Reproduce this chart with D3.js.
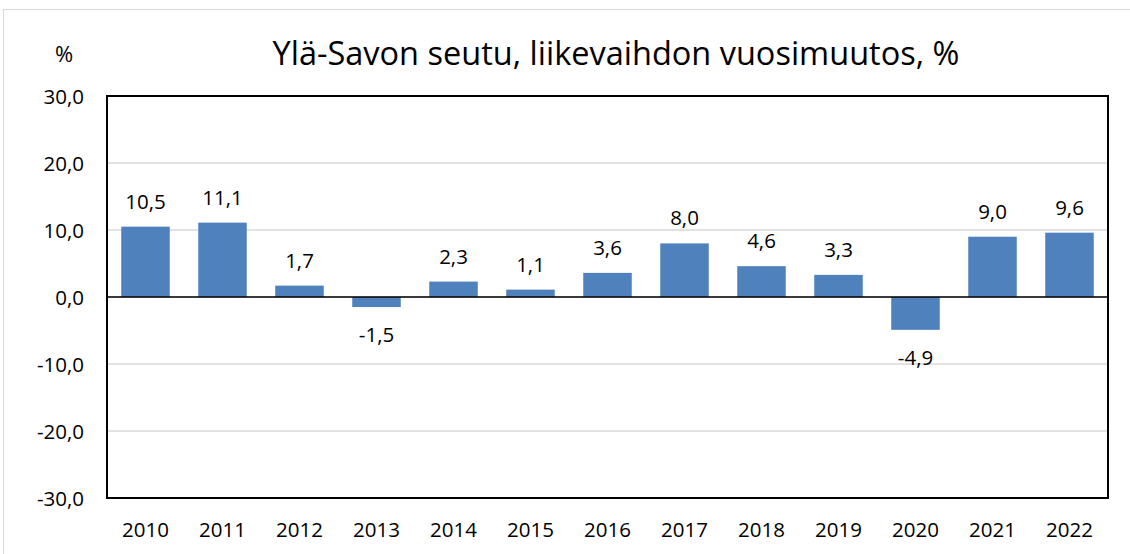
<!DOCTYPE html>
<html>
<head>
<meta charset="utf-8">
<script src="https://cdn.jsdelivr.net/npm/d3@7"></script>
<style>
  html, body { margin: 0; padding: 0; background: #fff; }
  text { font-family: "Open Sans", sans-serif; fill: #000; }
</style>
</head>
<body>
<div id="container"></div>
<script>
const years = ["2010", "2011", "2012", "2013", "2014", "2015", "2016", "2017", "2018", "2019", "2020", "2021", "2022"];
const changes = [10.5, 11.1, 1.7, -1.5, 2.3, 1.1, 3.6, 8.0, 4.6, 3.3, -4.9, 9.0, 9.6];
const yTicks = [-30, -20, -10, 0, 10, 20, 30];
const title = "Ylä-Savon seutu, liikevaihdon vuosimuutos, %";

const w = 1130;
const h = 554;
const plotL = 107;
const plotR = 1108;
const plotT = 96;
const plotB = 498;

const fmt = v => v.toFixed(1).replace(".", ",");

const svg = d3.select("#container")
  .append("svg")
  .attr("width", w)
  .attr("height", h);

// outer chart border
svg.append("rect")
  .attr("x", 3.5)
  .attr("y", 9.5)
  .attr("width", w + 20)
  .attr("height", h + 20)
  .attr("fill", "#fff")
  .attr("stroke", "#d9d9d9")
  .attr("stroke-width", 1);

const xScale = d3.scaleBand()
  .domain(years)
  .range([plotL, plotR])
  .paddingInner(0.37)
  .paddingOuter(0.185);

const yScale = d3.scaleLinear()
  .domain([-30, 30])
  .range([plotB, plotT]);

// gridlines
svg.append("g")
  .selectAll("line")
  .data(yTicks)
  .enter()
  .append("line")
  .attr("x1", plotL)
  .attr("x2", plotR)
  .attr("y1", d => yScale(d))
  .attr("y2", d => yScale(d))
  .attr("stroke", "#d9d9d9")
  .attr("stroke-width", 1.5);

// bars
svg.append("g")
  .selectAll("rect")
  .data(changes)
  .enter()
  .append("rect")
  .attr("x", (d, i) => xScale(years[i]))
  .attr("y", d => yScale(Math.max(0, d)))
  .attr("width", xScale.bandwidth())
  .attr("height", d => Math.abs(yScale(d) - yScale(0)))
  .attr("fill", "#4f81bd");

// zero line
svg.append("line")
  .attr("x1", plotL)
  .attr("x2", plotR)
  .attr("y1", yScale(0))
  .attr("y2", yScale(0))
  .attr("stroke", "#000")
  .attr("stroke-width", 1.5);

// plot frame
svg.append("rect")
  .attr("x", plotL)
  .attr("y", plotT)
  .attr("width", plotR - plotL)
  .attr("height", plotB - plotT)
  .attr("fill", "none")
  .attr("stroke", "#000")
  .attr("stroke-width", 2);

// data labels
svg.append("g")
  .selectAll("text")
  .data(changes)
  .enter()
  .append("text")
  .attr("x", (d, i) => xScale(years[i]) + xScale.bandwidth() / 2)
  .attr("y", d => d >= 0 ? yScale(d) - 18 : yScale(d) + 35)
  .attr("text-anchor", "middle")
  .style("font-size", "20.5px")
  .text(d => fmt(d));

// y axis
const yAxis = d3.axisLeft(yScale)
  .tickValues(yTicks)
  .tickFormat(fmt)
  .tickSize(0)
  .tickPadding(23);
svg.append("g")
  .attr("transform", `translate(${plotL}, 0)`)
  .call(yAxis)
  .call(g => g.select(".domain").remove())
  .call(g => g.selectAll("text").style("font-size", "20.5px").attr("font-family", null).attr("dy", "0.35em"));

// x axis
const xAxis = d3.axisBottom(xScale)
  .tickSize(0)
  .tickPadding(24);
svg.append("g")
  .attr("transform", `translate(0, ${plotB})`)
  .call(xAxis)
  .call(g => g.select(".domain").remove())
  .call(g => g.selectAll("text").style("font-size", "20.5px").attr("font-family", null));

// unit label
svg.append("text")
  .attr("x", 64)
  .attr("y", 62)
  .attr("text-anchor", "middle")
  .style("font-size", "22px")
  .text("%");

// title
svg.append("text")
  .attr("x", 616)
  .attr("y", 65)
  .attr("text-anchor", "middle")
  .style("font-size", "32.5px")
  .text(title);
</script>
</body>
</html>
